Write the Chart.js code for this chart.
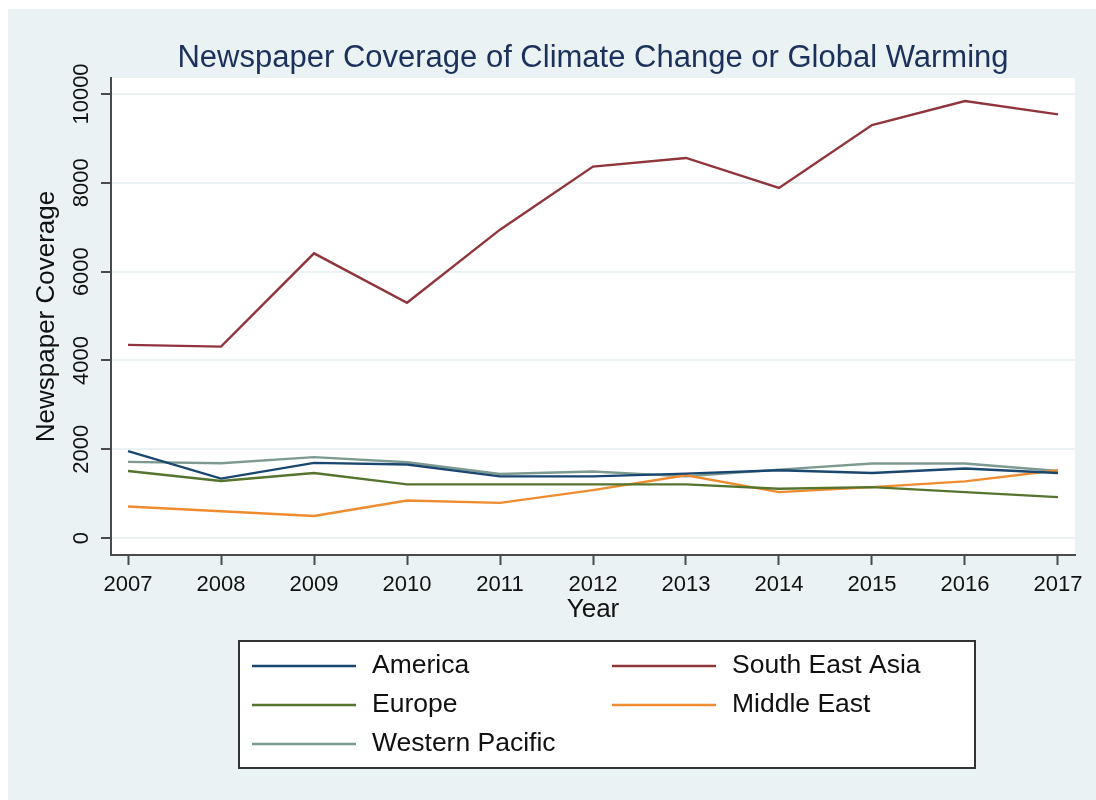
<!DOCTYPE html>
<html>
<head>
<meta charset="utf-8">
<script src="https://cdn.jsdelivr.net/npm/chart.js@4/dist/chart.umd.min.js"></script>
<style>
html,body{margin:0;padding:0;background:#ffffff;}
#wrap{width:1096px;height:800px;position:relative;}
</style>
</head>
<body>
<div id="wrap"><canvas id="c" width="1096" height="800"></canvas></div>
<script>
// ---- data ----
const years = [2007, 2008, 2009, 2010, 2011, 2012, 2013, 2014, 2015, 2016, 2017];
const america        = [1960, 1340, 1694, 1657, 1391, 1391, 1453, 1528, 1467, 1566, 1467];
const southEastAsia  = [4350, 4312, 6412, 5300, 6945, 8365, 8560, 7885, 9302, 9842, 9540];
const europe         = [1512, 1285, 1467, 1210, 1210, 1210, 1210, 1112, 1149, 1035, 922];
const middleEast     = [711, 604, 499, 847, 794, 1081, 1414, 1035, 1149, 1278, 1528];
const westernPacific = [1716, 1687, 1823, 1709, 1444, 1500, 1391, 1543, 1680, 1680, 1512];
const yTicks = [0, 2000, 4000, 6000, 8000, 10000];
const seriesNames = ['America', 'South East Asia', 'Europe', 'Middle East', 'Western Pacific'];
const seriesValues = [america, southEastAsia, europe, middleEast, westernPacific];
const seriesColors = ['#1a476f', '#90353b', '#55752f', '#ef8c2f', '#7d9a91'];
const chartTitle = 'Newspaper Coverage of Climate Change or Global Warming';
const xTitle = 'Year';
const yTitle = 'Newspaper Coverage';

const FONT = "'Liberation Sans', Arial, sans-serif";

const datasets = seriesNames.map((name, i) => ({
  label: name,
  data: years.map((y, j) => ({x: y, y: seriesValues[i][j]})),
  borderColor: seriesColors[i],
  backgroundColor: seriesColors[i],
  borderWidth: 2.4,
  pointRadius: 0,
  tension: 0,
  fill: false
}));

const bgPlugin = {
  id: 'bgPlugin',
  beforeDraw(chart) {
    const ctx = chart.ctx, a = chart.chartArea;
    ctx.save();
    ctx.fillStyle = '#ffffff';
    ctx.fillRect(0, 0, chart.width, chart.height);
    ctx.fillStyle = '#eaf2f3';
    ctx.fillRect(8, 9, chart.width - 8, chart.height - 9);
    ctx.fillStyle = '#ffffff';
    ctx.fillRect(a.left, a.top, a.right - a.left, a.bottom - a.top);
    ctx.restore();
  }
};

const titlePlugin = {
  id: 'titlePlugin',
  afterDraw(chart) {
    const ctx = chart.ctx, a = chart.chartArea;
    ctx.save();
    ctx.fillStyle = '#1c305c';
    ctx.font = '31px ' + FONT;
    ctx.textAlign = 'center';
    ctx.textBaseline = 'middle';
    ctx.fillText(chartTitle, (a.left + a.right) / 2, 58);
    ctx.restore();
  }
};

const legendPlugin = {
  id: 'legendPlugin',
  afterDraw(chart) {
    const ctx = chart.ctx;
    ctx.save();
    const bx = 239, by = 641, bw = 736, bh = 127;
    ctx.fillStyle = '#ffffff';
    ctx.fillRect(bx, by, bw, bh);
    ctx.strokeStyle = '#333333';
    ctx.lineWidth = 2;
    ctx.strokeRect(bx, by, bw, bh);
    ctx.font = '26.5px ' + FONT;
    ctx.textBaseline = 'middle';
    ctx.textAlign = 'left';
    chart.data.datasets.forEach((ds, i) => {
      const col = i % 2, row = Math.floor(i / 2);
      const x0 = col === 0 ? 252 : 612;
      const y = 666 + row * 39;
      ctx.strokeStyle = ds.borderColor;
      ctx.lineWidth = 2.4;
      ctx.beginPath();
      ctx.moveTo(x0, y);
      ctx.lineTo(x0 + 104, y);
      ctx.stroke();
      ctx.fillStyle = '#111111';
      ctx.fillText(ds.label, x0 + 120, y);
    });
    ctx.restore();
  }
};

new Chart(document.getElementById('c'), {
  type: 'line',
  data: { datasets },
  plugins: [bgPlugin, titlePlugin, legendPlugin],
  options: {
    responsive: false,
    animation: false,
    devicePixelRatio: 1,
    layout: { padding: { left: 8, right: 21, top: 78, bottom: 175 } },
    plugins: { legend: { display: false }, title: { display: false }, tooltip: { enabled: false } },
    scales: {
      x: {
        type: 'linear',
        min: 2006.817,
        max: 2017.183,
        afterBuildTicks: (s) => { s.ticks = years.map(v => ({value: v})); },
        afterFit: (s) => { s.height = 70; },
        ticks: {
          color: '#111111',
          font: { size: 22, family: FONT },
          padding: 7,
          maxRotation: 0,
          autoSkip: false,
          callback: (v) => String(v)
        },
        grid: { drawOnChartArea: false, drawTicks: true, tickLength: 10, tickColor: '#4a4a4a', tickWidth: 2 },
        border: { display: true, color: '#4a4a4a', width: 2 },
        title: { display: true, text: xTitle, color: '#111111', font: { size: 26, family: FONT }, padding: { top: 0, bottom: 0 } }
      },
      y: {
        type: 'linear',
        min: -380,
        max: 10360,
        afterBuildTicks: (s) => { s.ticks = yTicks.map(v => ({value: v})); },
        afterFit: (s) => { s.width = 103; },
        ticks: {
          color: '#111111',
          font: { size: 22, family: FONT },
          minRotation: 90,
          maxRotation: 90,
          crossAlign: 'center',
          padding: -12,
          callback: (v) => String(v)
        },
        grid: { color: '#eaf2f3', lineWidth: 2, drawTicks: true, tickLength: 10, tickColor: '#4a4a4a', tickWidth: 2 },
        border: { display: true, color: '#4a4a4a', width: 2 },
        title: { display: true, text: yTitle, color: '#111111', font: { size: 26, family: FONT }, padding: { top: 23, bottom: 0 } }
      }
    }
  }
});
</script>
</body>
</html>
